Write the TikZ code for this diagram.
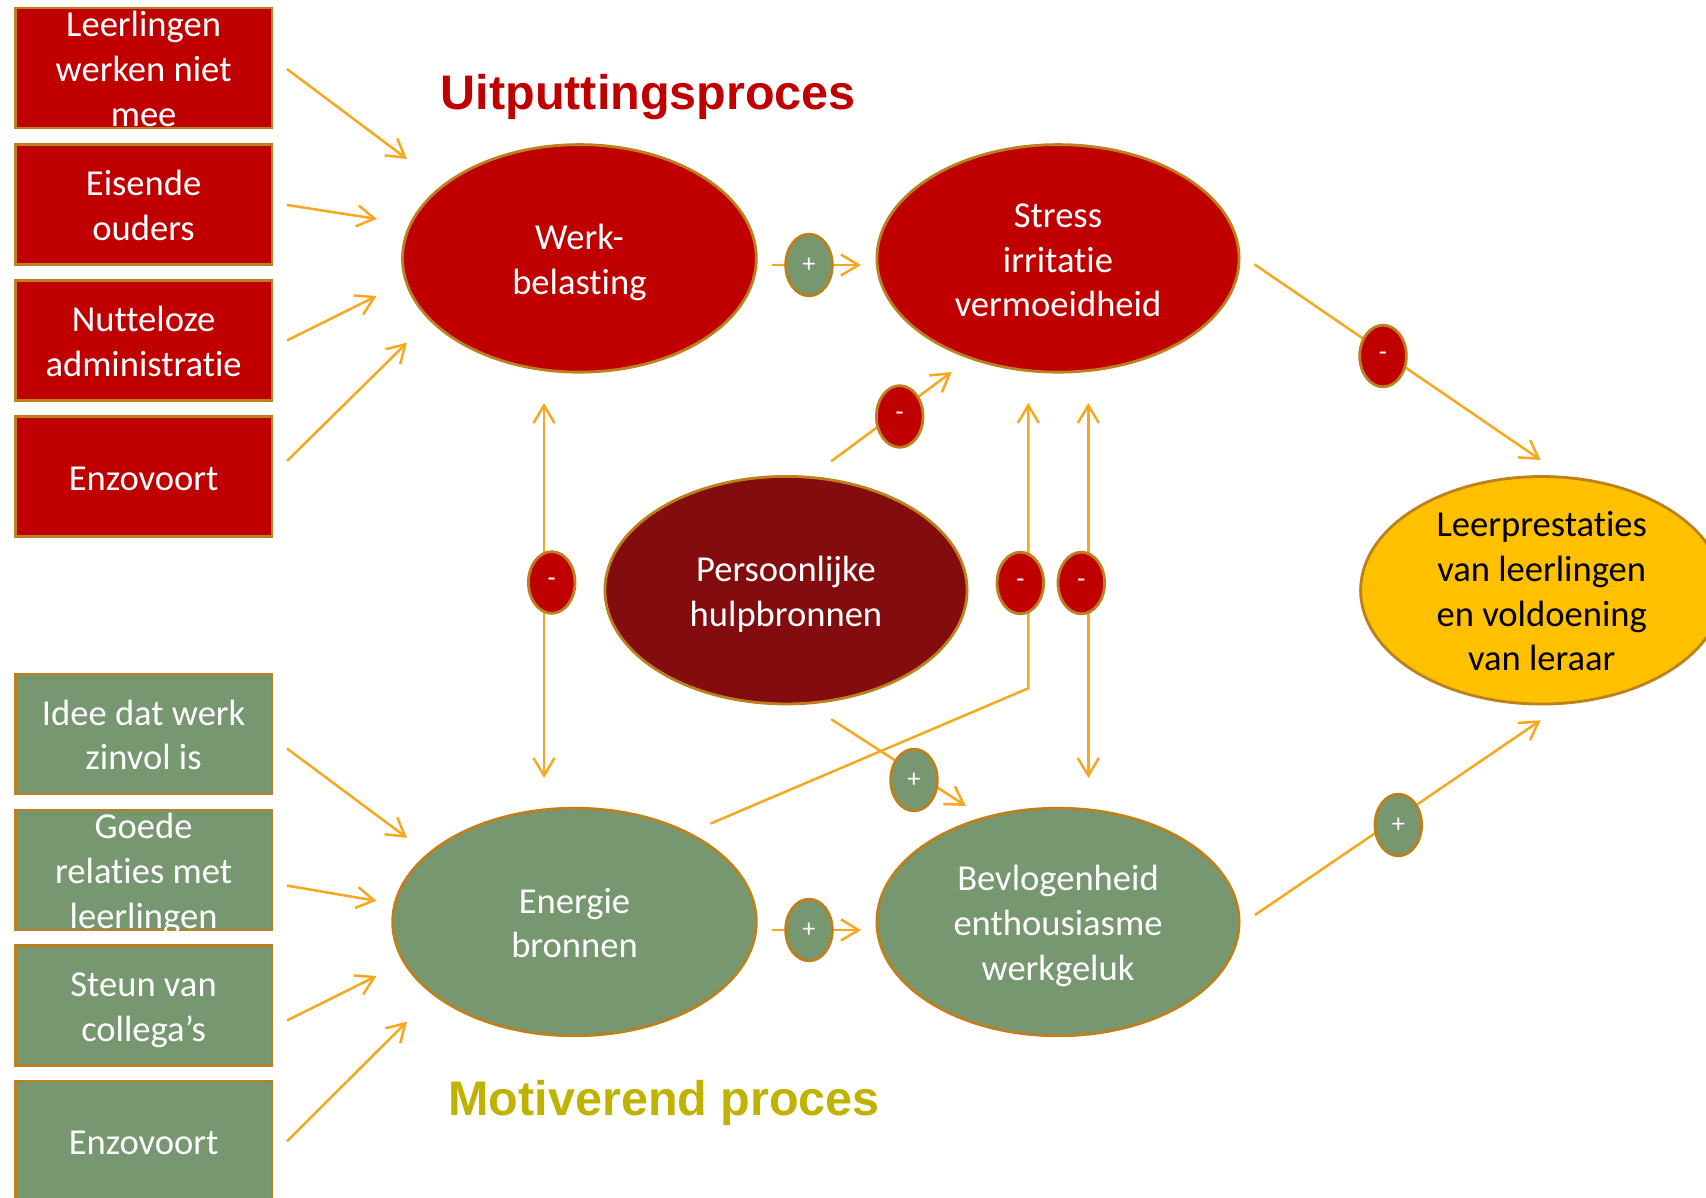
\documentclass[tikz,border=0pt]{standalone}
\usepackage{fontspec}
\setmainfont[Ligatures={CommonOff,ContextualOff,RareOff}]{Carlito}
\newfontfamily\titlefont{Liberation Sans}
\usetikzlibrary{arrows.meta,shapes.geometric}
\definecolor{cred}{RGB}{192,0,0}
\definecolor{cdark}{RGB}{131,12,14}
\definecolor{cgreen}{RGB}{118,151,112}
\definecolor{cgold}{RGB}{255,192,0}
\definecolor{cborder}{RGB}{188,128,28}
\definecolor{carrow}{RGB}{248,168,32}
\definecolor{colive}{RGB}{191,178,0}
\newcommand\txtlines[1]{\raisebox{-1.34pt}[\dimexpr\height-3pt\relax][\dimexpr\depth-3pt\relax]{\begin{tabular}{@{}c@{}}#1\end{tabular}}}
\tikzset{
  bodyfont/.style={font=\fontsize{10.4}{12.7}\selectfont},
  boxnode/.style={rectangle, draw=cborder, line width=0.8pt, minimum width=2.568cm,
    minimum height=1.2cm, inner sep=0pt, text=white, bodyfont},
  redbox/.style={boxnode, fill=cred},
  greenbox/.style={boxnode, fill=cgreen},
  ell/.style={ellipse, draw=cborder, line width=0.8pt, minimum width=3.62cm,
    minimum height=2.274cm, inner sep=-12pt, text=white, bodyfont},
  sign/.style={ellipse, draw=cborder, line width=0.8pt, minimum width=0.466cm,
    minimum height=0.616cm, inner sep=0pt, text=white, font=\fontsize{7.5}{8}\selectfont},
  possign/.style={sign, fill=cgreen},
  negsign/.style={sign, fill=cred},
  arr/.style={draw=carrow, line width=0.72pt, -{Straight Barb[length=5pt,width=6pt]}},
  darr/.style={draw=carrow, line width=0.72pt, {Straight Barb[length=5pt,width=6pt]}-{Straight Barb[length=5pt,width=6pt]}},
  titlestyle/.style={anchor=base, font=\titlefont\bfseries\fontsize{13.8}{16}\selectfont}
}
\begin{document}
\begin{tikzpicture}[x=0.01cm, y=-0.01cm]
\useasboundingbox (0,0) rectangle (1706,1198);

% left boxes
\node[redbox] (r1) at (143.6,68) {\txtlines{Leerlingen\\werken niet\\mee}};
\node[redbox] (r2) at (143.6,204.5) {\txtlines{Eisende\\ouders}};
\node[redbox] (r3) at (143.6,340.5) {\txtlines{Nutteloze\\administratie}};
\node[redbox] (r4) at (143.6,476.5) {\txtlines{Enzovoort}};
\node[greenbox] (g1) at (143.6,734) {\txtlines{Idee dat werk\\zinvol is}};
\node[greenbox] (g2) at (143.6,870) {\txtlines{Goede\\relaties met\\leerlingen}};
\node[greenbox] (g3) at (143.6,1005.5) {\txtlines{Steun van\\collega’s}};
\node[greenbox] (g4) at (143.6,1141) {\txtlines{Enzovoort}};

% ellipses
\node[ell, fill=cred, minimum width=3.536cm] (werk) at (579.4,258.4) {\txtlines{Werk-\\belasting}};
\node[ell, fill=cred] (stress) at (1058,258.4) {\txtlines{Stress\\irritatie\\vermoeidheid}};
\node[ell, fill=cdark] (pers) at (786,590.2) {\txtlines{Persoonlijke\\hulpbronnen}};
\node[ell, fill=cgold, text=black] (leer) at (1541.7,590.3) {\txtlines{Leerprestaties\\van leerlingen\\en voldoening\\van leraar}};
\node[ell, fill=cgreen, minimum width=3.634cm] (energie) at (574.5,922) {\txtlines{Energie\\bronnen}};
\node[ell, fill=cgreen] (bevl) at (1058,922) {\txtlines{Bevlogenheid\\enthousiasme\\werkgeluk}};

% titles
\node[titlestyle, text=cred] (t1) at (648.3,109.3) {Uitputtingsproces};
\node[titlestyle, text=colive] (t2) at (664.2,1115) {Motiverend proces};

% connector end points
\coordinate (a1s) at (287,69);     \coordinate (a1e) at (407,159);
\coordinate (a2s) at (287,205);    \coordinate (a2e) at (377,219);
\coordinate (a3s) at (287,340.5);  \coordinate (a3e) at (376.5,296);
\coordinate (a4s) at (287,461);    \coordinate (a4e) at (407,342.7);
\coordinate (a5s) at (287,748.5);  \coordinate (a5e) at (407,837.8);
\coordinate (a6s) at (287,885.6);  \coordinate (a6e) at (376.5,900.9);
\coordinate (a7s) at (287,1020.5); \coordinate (a7e) at (376.5,976);
\coordinate (a8s) at (287,1141.3); \coordinate (a8e) at (407,1021.6);

\coordinate (m1s) at (771.5,265);  \coordinate (m1e) at (861,265);
\coordinate (m2s) at (831.2,461.3);\coordinate (m2e) at (951.7,372);
\coordinate (m3s) at (1254.5,264.4);\coordinate (m3e) at (1540.7,460);
\coordinate (m4s) at (544,403);    \coordinate (m4e) at (544,778);
\coordinate (m5s) at (710.5,823.6);\coordinate (m5b) at (1028.3,688.3); \coordinate (m5e) at (1028.3,403);
\coordinate (m6s) at (1088.3,403); \coordinate (m6e) at (1088.3,778);
\coordinate (m7s) at (831.2,719.2);\coordinate (m7e) at (966,806);
\coordinate (m8s) at (771.5,930);  \coordinate (m8e) at (861,930);
\coordinate (m9s) at (1255,915);   \coordinate (m9e) at (1540.6,720.3);

% connectors
\foreach \i in {1,...,8} { \draw[arr] (a\i s) -- (a\i e); }
\draw[arr] (m1s) -- (m1e);
\draw[arr] (m2s) -- (m2e);
\draw[arr] (m3s) -- (m3e);
\draw[darr] (m4s) -- (m4e);
\draw[arr] (m5s) -- (m5b) -- (m5e);
\draw[darr] (m6s) -- (m6e);
\draw[arr] (m7s) -- (m7e);
\draw[arr] (m8s) -- (m8e);
\draw[arr] (m9s) -- (m9e);

% signs
\node[possign] (s1) at (809,265) {+};
\node[negsign] (s2) at (899.7,416.5) {-};
\node[negsign] (s3) at (1383,356) {-};
\node[negsign] (s4) at (551.7,582.5) {-};
\node[negsign] (s5) at (1020.3,583) {-};
\node[negsign] (s6) at (1081.3,583) {-};
\node[possign] (s7) at (914,780) {+};
\node[possign] (s8) at (1398.3,825) {+};
\node[possign] (s9) at (809,930) {+};
\end{tikzpicture}
\end{document}
